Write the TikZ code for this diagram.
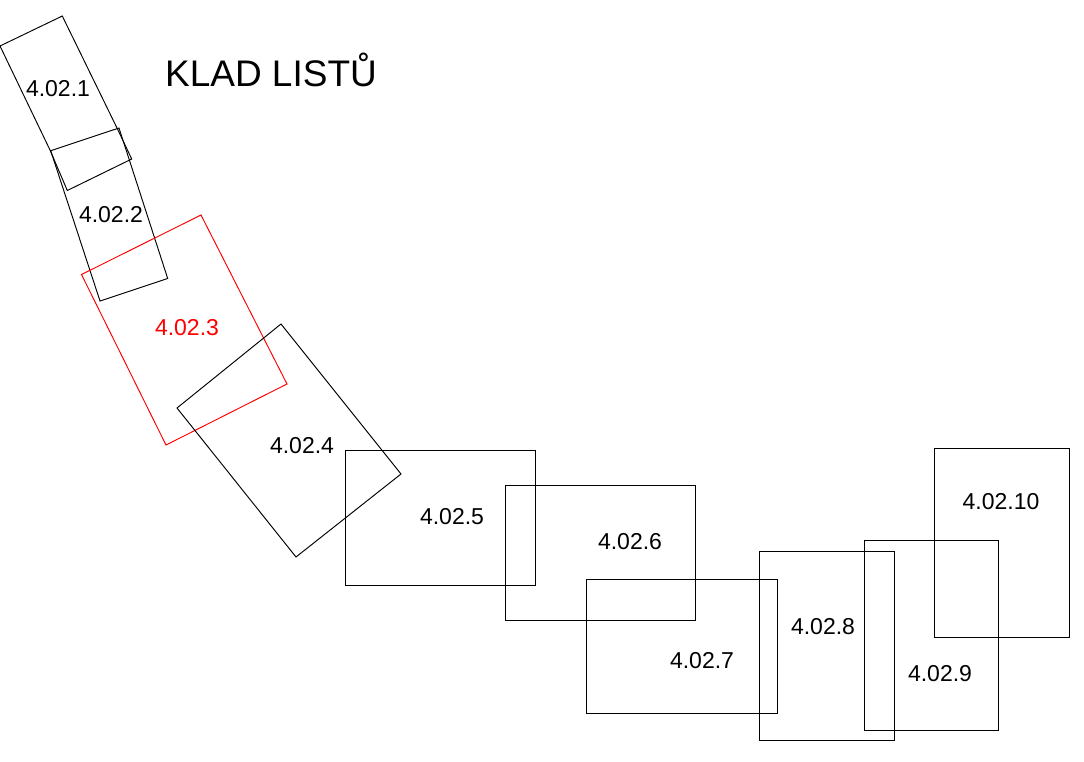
\documentclass[tikz,border=0pt]{standalone}
\usepackage{fontspec}
\setmainfont{Liberation Sans}
\tikzset{sheet/.style={draw=black,line width=0.95pt,line join=miter},
redsheet/.style={draw=red,line width=0.95pt},
lab/.style={font=\fontsize{23}{26}\selectfont,text=black,inner sep=0pt}}
\begin{document}
\begin{tikzpicture}[x=1pt,y=-1pt]
\useasboundingbox (0,0) rectangle (1084,761);
\draw[sheet] (0,46) -- (62.3,16) -- (117,128) -- (131.7,159) -- (67.3,190.5) -- (50,150) -- cycle;
\draw[sheet] (50.7,150.7) -- (119,128) -- (167.7,278.5) -- (100,301) -- cycle;
\draw[redsheet] (81.5,274.5) -- (201,215) -- (287,384) -- (166,445) -- cycle;
\draw[sheet] (177,408) -- (281,324) -- (401,474) -- (296,557) -- cycle;
\draw[sheet] (345,450.5) rectangle (535.5,585);
\draw[sheet] (505,485.5) rectangle (695.5,620);
\draw[sheet] (586.5,579) rectangle (777,713);
\draw[sheet] (759.5,551) rectangle (894.5,740);
\draw[sheet] (864,540) rectangle (998.5,730);
\draw[sheet] (934.5,448) rectangle (1069,637);
\node[lab] (t1) at (58,89) {4.02.1};
\node[lab] (t2) at (111,215) {4.02.2};
\node[lab,text=red] (t3) at (187,328) {4.02.3};
\node[lab] (t4) at (302,446) {4.02.4};
\node[lab] (t5) at (452,517) {4.02.5};
\node[lab] (t6) at (630,542) {4.02.6};
\node[lab] (t7) at (702,661) {4.02.7};
\node[lab] (t8) at (823,627) {4.02.8};
\node[lab] (t9) at (940,674) {4.02.9};
\node[lab] (t10) at (1001,502) {4.02.10};
\node[inner sep=0pt,font=\fontsize{37}{42}\selectfont] (title) at (271,70) {KLAD LISTŮ};
\end{tikzpicture}
\end{document}
